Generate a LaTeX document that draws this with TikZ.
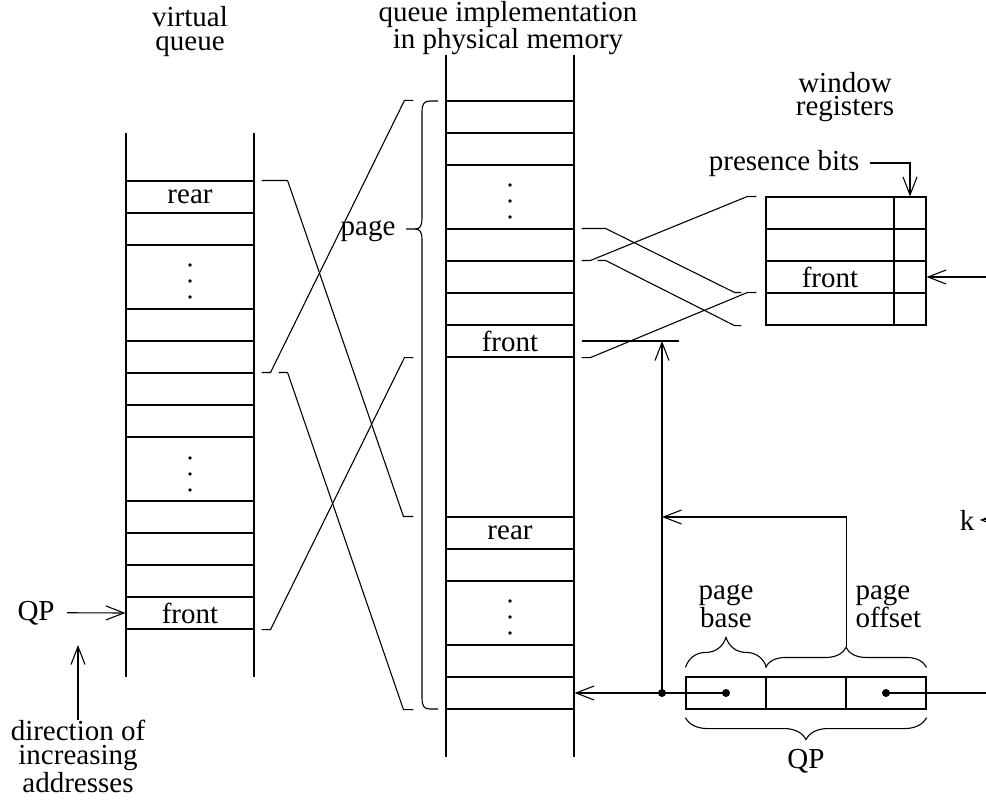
\documentclass[tikz,border=0pt]{standalone}
\usepackage{fontspec}
\setmainfont{Liberation Serif}
\usetikzlibrary{arrows.meta,decorations.pathreplacing}

\begin{document}
\begin{tikzpicture}[x=1pt,y=-1pt,line width=1.1pt,
    >={Straight Barb[length=18pt,width=14pt]},
    font=\fontsize{29}{24}\selectfont,
    every node/.style={inner sep=0pt},
    cell/.style={draw,minimum width=128pt,minimum height=32pt},
    bit/.style={draw,minimum width=32pt,minimum height=32pt},
    field/.style={draw,minimum width=80pt,minimum height=32pt},
    brace/.style={decorate,decoration={brace,amplitude=#1}}]
  \useasboundingbox (0,0) rectangle (986,800);
  \clip (0,0) rectangle (986,800);

  % virtual queue
  \draw (126,133) -- (126,677) (254,133) -- (254,677);
  \foreach \t/\txt in {181/rear,213/,309/,341/,373/,405/,501/,533/,565/,597/front}
    \node[cell] (v\t) at (190,\t+16) {\txt};
  \foreach \y in {265,281,297,458,474,490}
    \fill (190,\y) circle (1.8pt);

  % physical memory
  \draw (446,55) -- (446,757) (574,55) -- (574,757);
  \foreach \t/\txt in {101/,133/,229/,261/,293/,325/front,517/rear,549/,645/,677/}
    \node[cell] (m\t) at (510,\t+16) {\txt};
  \foreach \y in {185,201,217,601,617,633}
    \fill (510,\y) circle (1.8pt);

  % window registers with presence bits
  \foreach \t/\txt in {197/,229/,261/front,293/} {
    \node[cell] (r\t) at (830,\t+16) {\txt};
    \node[bit] (b\t) at (910,\t+16) {};
  }

  % QP fields
  \node[field] (q1) at (726,693) {};
  \node[field] (q2) at (806,693) {};
  \node[field] (q3) at (886,693) {};

  % labels
  \node[align=center,anchor=base] (vqtitle) at (190,51) {virtual\\queue};
  \node[align=center,anchor=base] (pmtitle) at (508,49) {queue implementation\\in physical memory};
  \node[align=center,anchor=base] (wrtitle) at (845,116) {window\\registers};
  \node[anchor=base east] (pres) at (860,170) {presence bits};
  \node[anchor=base east] (page) at (396,235) {page};
  \node[anchor=base west] (qpin) at (17,620) {QP};
  \node[align=center,anchor=base] (dir) at (78,792) {direction of\\increasing\\addresses};
  \node[align=center,anchor=base] (pbase) at (726,627) {page\\base};
  \node[align=left,anchor=base west] (poff) at (855,627) {page\\offset};
  \node[anchor=base] (qp) at (806,768) {QP};
  \node[anchor=base] (k) at (967,530) {k};

  \coordinate (dirtip) at (78,645);
  \draw[->] ([xshift=12pt]qpin.east) -- (v597.west);
  \draw[->] (dir.north) -- (dirtip);

  % page brace
  \draw (438,101) -- (430,101) .. controls (424,101) and (422,104) .. (422,112)
        -- (422,218) .. controls (422,226) and (420,229) .. (415,229) -- (406,229);
  \draw (415,229) .. controls (420,229) and (422,232) .. (422,240)
        -- (422,698) .. controls (422,706) and (424,709) .. (430,709) -- (438,709);

  % virtual -> physical
  \draw ([xshift=7pt]v181.north east) -- ++(26,0) -- ([xshift=-42pt]m517.north west) -- ++(10,0);
  \draw ([xshift=7pt]v373.north east) -- ++(9,0) -- ([xshift=-41pt]m101.north west) -- ++(9,0);
  \draw ([xshift=24pt]v373.north east) -- ++(9,0) -- ([xshift=-42pt]m677.south west) -- ++(10,0);
  \draw ([xshift=7pt]v597.south east) -- ++(9,0) -- ([xshift=-41pt]m325.south west) -- ++(9,0);

  % physical -> window
  \draw ([xshift=7pt]m229.north east) -- ++(24,0) -- ([xshift=-31pt]r293.north west) -- ++(7,0);
  \draw ([xshift=7pt]m261.north east) -- ++(9,0) -- ([xshift=-18pt]r197.north west) -- ++(9,0);
  \draw ([xshift=23pt]m261.north east) -- ++(8,0) -- ([xshift=-31pt]r293.south west) -- ++(7,0);
  \draw ([xshift=7pt]m325.south east) -- ++(9,0) -- ([xshift=-18pt]r293.north west) -- ++(9,0);

  % address path from QP
  \coordinate (mark) at (662,341);
  \coordinate (jn) at (662,693);
  \coordinate (ret) at (662,517);
  \draw ([xshift=7pt]m325.east) -- ++(97,0);
  \draw[->] (jn) -- (mark);
  \draw[->] (q1.center) -- (m677.east);
  \draw (q3.center) -- ++(110,0);
  \fill (jn) circle (4pt) (q1.center) circle (4pt) (q3.center) circle (4pt);

  % braces over and under QP
  \draw[brace=30pt] ([yshift=9pt]q1.north west) -- ([yshift=9pt]q1.north east);
  \draw[brace=20pt] ([yshift=9pt]q2.north west) -- ([yshift=9pt]q3.north east);
  \draw[brace=22pt] ([yshift=-8pt]q3.south east) -- ([yshift=-8pt]q1.south west);
  \draw[->] ([yshift=29pt]q2.north east) |- (ret);

  % pointers into the registers
  \draw[->] ([xshift=10pt]pres.east) -| (b197.north);
  \draw[->] ([xshift=70pt]b261.east) -- (b261.east);
  \draw[->] ([xshift=40pt]k.east) -- ([xshift=5pt]k.east);
\end{tikzpicture}
\end{document}
